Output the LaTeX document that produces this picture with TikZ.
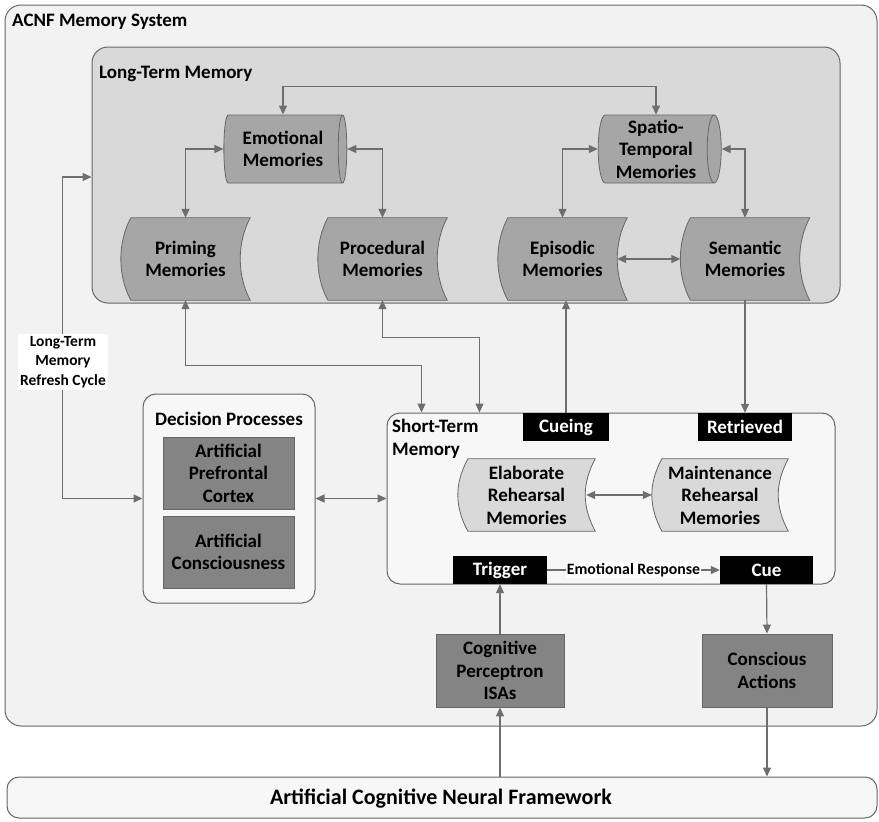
\documentclass[tikz,border=0pt]{standalone}
\usepackage{fontspec}
\setmainfont{Carlito}
\usetikzlibrary{shapes.geometric,arrows.meta,calc}
\pgfdeclarelayer{bg}
\pgfdeclarelayer{mid}
\pgfsetlayers{bg,mid,main}

\definecolor{framefill}{HTML}{F2F2F2}
\definecolor{ltmfill}{HTML}{D9D9D9}
\definecolor{boxfill}{HTML}{F7F7F7}
\definecolor{edge}{HTML}{666666}
\definecolor{darkbox}{HTML}{848484}
\definecolor{midbox}{HTML}{A6A6A6}
\definecolor{lightbox}{HTML}{D9D9D9}
\definecolor{link}{HTML}{6E6E6E}

% stored-data outline around a rectangular node: convex left side, concave right side
\newcommand\storedoutline[2]{%
  \path[draw=edge, line width=0.8pt, fill=#2]
    ([xshift=10pt]#1.north west) -- (#1.north east)
    .. controls ([xshift=-13.3pt,yshift=-25pt]#1.north east) and ([xshift=-13.3pt,yshift=25pt]#1.south east) .. (#1.south east)
    -- ([xshift=10pt]#1.south west)
    .. controls ([xshift=-3.3pt,yshift=25pt]#1.south west) and ([xshift=-3.3pt,yshift=-25pt]#1.north west) .. ([xshift=10pt]#1.north west)
    -- cycle;}

\tikzset{
  txt/.style={font=\fontsize{19}{22.5}\selectfont\bfseries, align=center, inner sep=0pt},
  panel/.style={draw=edge, line width=1pt, rounded corners=#1, inner sep=0pt},
  cyl/.style={txt, cylinder, draw=edge, fill=midbox, line width=0.8pt,
    minimum width=68pt, minimum height=123pt, aspect=0.24},
  stored/.style={txt, minimum width=129pt, minimum height=82pt},
  rehearse/.style={txt, minimum height=72pt},
  darkrect/.style={txt, draw=edge, fill=darkbox, line width=0.8pt, minimum width=131pt, minimum height=72pt},
  tag/.style={txt, fill=black, text=white, minimum height=28pt},
  link/.style={draw=link, line width=1.2pt, {Triangle[length=9pt,width=8pt]}-{Triangle[length=9pt,width=8pt]}},
  to/.style={draw=link, line width=1.2pt, -{Triangle[length=9pt,width=8pt]}},
}

\begin{document}
\begin{tikzpicture}[x=1pt, y=-1pt]
\useasboundingbox (0,0) rectangle (879,822);

% ---- containers ----
\begin{pgfonlayer}{bg}
  \node[panel=16pt, fill=framefill, minimum width=872pt, minimum height=721pt] (acnf) at (441,365.5) {};
  \node[panel=16pt, fill=ltmfill, minimum width=748pt, minimum height=256pt] (ltm) at (466,175) {};
  \node[panel=13pt, fill=boxfill, minimum width=448pt, minimum height=171pt] (stm) at (611,498.5) {};
  \node[panel=13pt, fill=boxfill, minimum width=172pt, minimum height=209pt] (dec) at (229,498.5) {};
  \node[panel=12pt, fill=boxfill, minimum width=870pt, minimum height=41pt] (fw) at (442,797.5) {};
\end{pgfonlayer}

\node[txt, anchor=west] (acnftitle) at (12,22) {ACNF Memory System};
\node[txt, anchor=west] (ltmtitle) at (99,74) {Long-Term Memory};
\node[txt, anchor=north west, align=left] (stmtitle) at (392,419) {Short-Term\\Memory};
\node[txt] (dectitle) at (229,419) {Decision Processes};
\node[txt, font=\fontsize{22}{26}\selectfont\bfseries] (fwtitle) at (441,799) {Artificial Cognitive Neural Framework};

% ---- long-term memory ----
\node[cyl] (emo) at (283,149) {Emotional\\Memories};
\node[cyl] (spt) at (656,149) {Spatio-\\Temporal\\Memories};

\node[stored] (prim) at (185.5,259) {Priming\\Memories};
\node[stored] (proc) at (382.5,259) {Procedural\\Memories};
\node[stored] (epi) at (562.5,259) {Episodic\\Memories};
\node[stored] (sem) at (745,259) {Semantic\\Memories};

% ---- short-term memory ----
\node[rehearse, minimum width=137pt] (ela) at (526.5,495) {Elaborate\\Rehearsal\\Memories};
\node[rehearse, minimum width=136pt] (mai) at (720,495) {Maintenance\\Rehearsal\\Memories};

\begin{pgfonlayer}{mid}
  \storedoutline{prim}{midbox}
  \storedoutline{proc}{midbox}
  \storedoutline{epi}{midbox}
  \storedoutline{sem}{midbox}
  \storedoutline{ela}{lightbox}
  \storedoutline{mai}{lightbox}
\end{pgfonlayer}

\node[tag, minimum width=86pt] (cueing) at (566,427) {Cueing};
\node[tag, minimum width=94pt] (retr) at (745,427) {Retrieved};
\node[tag, minimum width=94pt] (trig) at (500,570) {Trigger};
\node[tag, minimum width=93pt] (cue) at (766.5,570) {Cue};

% ---- decision processes ----
\node[darkrect] (apc) at (228.5,473) {Artificial\\Prefrontal\\Cortex};
\node[darkrect] (acon) at (228.5,552) {Artificial\\Consciousness};

% ---- perception and action ----
\node[darkrect, minimum width=128pt, minimum height=73pt] (cogn) at (500,670.5) {Cognitive\\Perceptron\\ISAs};
\node[darkrect, minimum width=130pt, minimum height=73pt] (cons) at (767,670.5) {Conscious\\Actions};

% ---- connectors ----
\draw[link] (emo.north) -- ++(0,-28) -| (spt.north);
\draw[link] (emo.west) -| (prim.north);
\draw[link] (emo.east) -| (proc.north);
\draw[link] (spt.west) -| (epi.north);
\draw[link] (spt.east) -| (sem.north);
\draw[link] ([xshift=-10pt]epi.east) -- (sem.west);

\draw[link] (prim.south) -- ++(0,65) -| ([xshift=35pt]stm.north west);
\draw[link] (proc.south) -- ++(0,37) -| ([xshift=93pt]stm.north west);
\draw[to] (cueing.north) -- (cueing.north |- epi.south);
\draw[to] (sem.south) -- (retr.north);

\draw[link] ([xshift=-9pt]ela.east) -- (mai.west);
\draw[to] (trig.east) -- node[txt, font=\fontsize{15.8}{18}\selectfont\bfseries, fill=white, inner sep=1pt] (emoresp) {Emotional Response} (cue.west);

\draw[link] (dec.east) -- (stm.west);
\draw[link] ([yshift=-2pt]ltm.west) -- ++(-29,0) |- (dec.west);
\node[txt, font=\fontsize{15.5}{19.5}\selectfont\bfseries, fill=white, inner sep=2pt] (refresh) at (63,362) {Long-Term\\Memory\\Refresh Cycle};

\draw[to] (cogn.north) -- (trig.south);
\draw[to] (cue.south) -- (cons.north);
\draw[to] (cogn.south |- fw.north) -- (cogn.south);
\draw[to] (cons.south) -- (cons.south |- fw.north);
\end{tikzpicture}
\end{document}
